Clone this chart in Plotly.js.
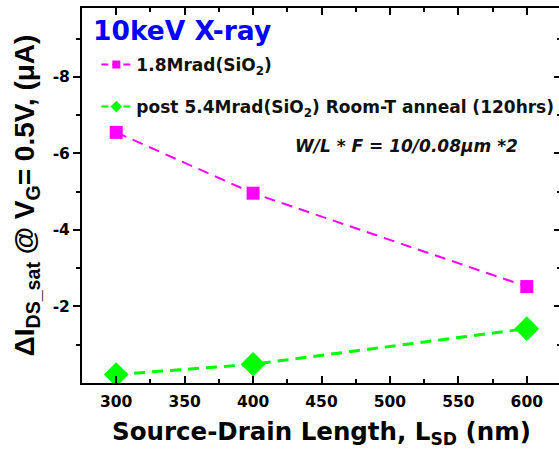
<!DOCTYPE html>
<html>
<head>
<meta charset="utf-8">
<script src="https://cdn.plot.ly/plotly-3.0.1.min.js"></script>
<style>
  html, body { margin: 0; padding: 0; overflow: hidden; background: #fff; }
</style>
</head>
<body>
<div id="chart"></div>
<script>
// Source-drain length (nm)
const lengthsNm = [300, 400, 600];
// Saturation drain-current shift (uA) after 1.8 Mrad(SiO2)
const shiftDose18 = [-6.55, -4.96, -2.52];
// Shift after 5.4 Mrad(SiO2) and 120 h room-temperature anneal
const shiftAnneal54 = [-0.22, -0.49, -1.42];

const xTickVals = [300, 350, 400, 450, 500, 550, 600];
const xMinorVals = [275, 325, 375, 425, 475, 525, 575, 625];
const yTickVals = [-2, -4, -6, -8];
const yTickText = ['-2', '-4', '-6', '-8'];
const yMinorVals = [-1, -3, -5, -7, -9];

const seriesNames = [
  '1.8Mrad(SiO<sub>2</sub>)',
  'post 5.4Mrad(SiO<sub>2</sub>) Room-T anneal (120hrs)'
];

const MAGENTA = '#ff00ff';
const GREEN = '#00ff00';
const WIDE = 'DejaVu Sans';
const ARIAL = 'Liberation Sans, Arial, sans-serif';

const traces = [
  {
    x: lengthsNm, y: shiftDose18, mode: 'lines+markers', showlegend: false,
    line: { color: MAGENTA, width: 2, dash: '11px,7px' },
    marker: { symbol: 'square', size: 13, color: MAGENTA }
  },
  {
    x: lengthsNm, y: shiftAnneal54, mode: 'lines+markers', showlegend: false,
    line: { color: GREEN, width: 3, dash: '11px,7px' },
    marker: { symbol: 'diamond', size: 19, color: GREEN }
  },
  // legend keys with smaller symbols
  {
    x: [null], y: [null], mode: 'lines+markers', name: seriesNames[0], legend: 'legend',
    line: { color: MAGENTA, width: 2, dash: '7px,4px' },
    marker: { symbol: 'square', size: 8, color: MAGENTA }
  },
  {
    x: [null], y: [null], mode: 'lines+markers', name: seriesNames[1], legend: 'legend2',
    line: { color: GREEN, width: 2, dash: '7px,4px' },
    marker: { symbol: 'diamond', size: 9, color: GREEN }
  },
  // carries the right-hand tick axis
  { x: [null], y: [null], yaxis: 'y2', showlegend: false, hoverinfo: 'skip', mode: 'markers' }
];

const legendCommon = {
  xref: 'paper', yref: 'paper', xanchor: 'left', yanchor: 'middle',
  bgcolor: 'rgba(0,0,0,0)', borderwidth: 0,
  font: { family: WIDE, size: 17, weight: 'bold', color: '#111' },
  itemclick: false, itemdoubleclick: false
};

const yAxisBase = {
  range: [0, -9.8], showgrid: false, zeroline: false,
  tickmode: 'array', tickvals: yTickVals, ticktext: yTickText,
  tickwidth: 2, ticklen: 7, tickcolor: '#000',
  minor: { tickmode: 'array', tickvals: yMinorVals, ticklen: 4, tickwidth: 2, tickcolor: '#000' }
};

const layout = {
  width: 561, height: 454,
  margin: { l: 82, r: 0, t: 8, b: 71 },
  paper_bgcolor: '#fff', plot_bgcolor: '#fff',
  xaxis: {
    range: [275, 625], showgrid: false, zeroline: false,
    showline: true, linecolor: '#000', linewidth: 2, mirror: 'ticks',
    tickmode: 'array', tickvals: xTickVals,
    ticks: 'inside', ticklen: 7, tickwidth: 2, tickcolor: '#000',
    minor: { tickmode: 'array', tickvals: xMinorVals, ticks: 'inside', ticklen: 4, tickwidth: 2, tickcolor: '#000' },
    ticklabelstandoff: 3,
    tickfont: { family: WIDE, size: 15.5, weight: 'bold', color: '#000' },
    title: {
      text: 'Source-Drain Length, L<sub>SD</sub> (nm)',
      font: { family: WIDE, size: 24.5, weight: 'bold', color: '#000' },
      standoff: 13
    }
  },
  yaxis: Object.assign({}, yAxisBase, {
    showline: true, linecolor: '#000', linewidth: 2, mirror: true,
    ticks: 'outside',
    minor: Object.assign({}, yAxisBase.minor, { ticks: 'outside' }),
    tickfont: { family: WIDE, size: 15.5, weight: 'bold', color: '#000' },
    title: {
      text: '\u0394I<sub>DS_sat</sub> @ V<sub>G</sub>= 0.5V, (\u03bcA)',
      font: { family: ARIAL, size: 28, weight: 'bold', color: '#000' },
      standoff: 10
    }
  }),
  yaxis2: Object.assign({}, yAxisBase, {
    overlaying: 'y', side: 'right', anchor: 'x',
    showline: false, ticks: 'inside', showticklabels: false,
    minor: Object.assign({}, yAxisBase.minor, { ticks: 'inside' })
  }),
  legend: Object.assign({}, legendCommon, { x: 0.03, y: 0.848 }),
  legend2: Object.assign({}, legendCommon, { x: 0.03, y: 0.736 }),
  annotations: [
    {
      text: '10keV X-ray', xref: 'paper', yref: 'paper', x: 0.018, y: 0.939,
      xanchor: 'left', yanchor: 'middle', showarrow: false,
      font: { family: WIDE, size: 26.5, weight: 'bold', color: '#0000ff' }
    },
    {
      text: 'W/L * F = 10/0.08\u03bcm *2', xref: 'paper', yref: 'paper', x: 0.678, y: 0.632,
      xanchor: 'center', yanchor: 'middle', showarrow: false,
      font: { family: WIDE, size: 17, weight: 'bold', style: 'italic', color: '#111' }
    }
  ]
};

Plotly.newPlot('chart', traces, layout, { staticPlot: true, displayModeBar: false });
</script>
</body>
</html>
